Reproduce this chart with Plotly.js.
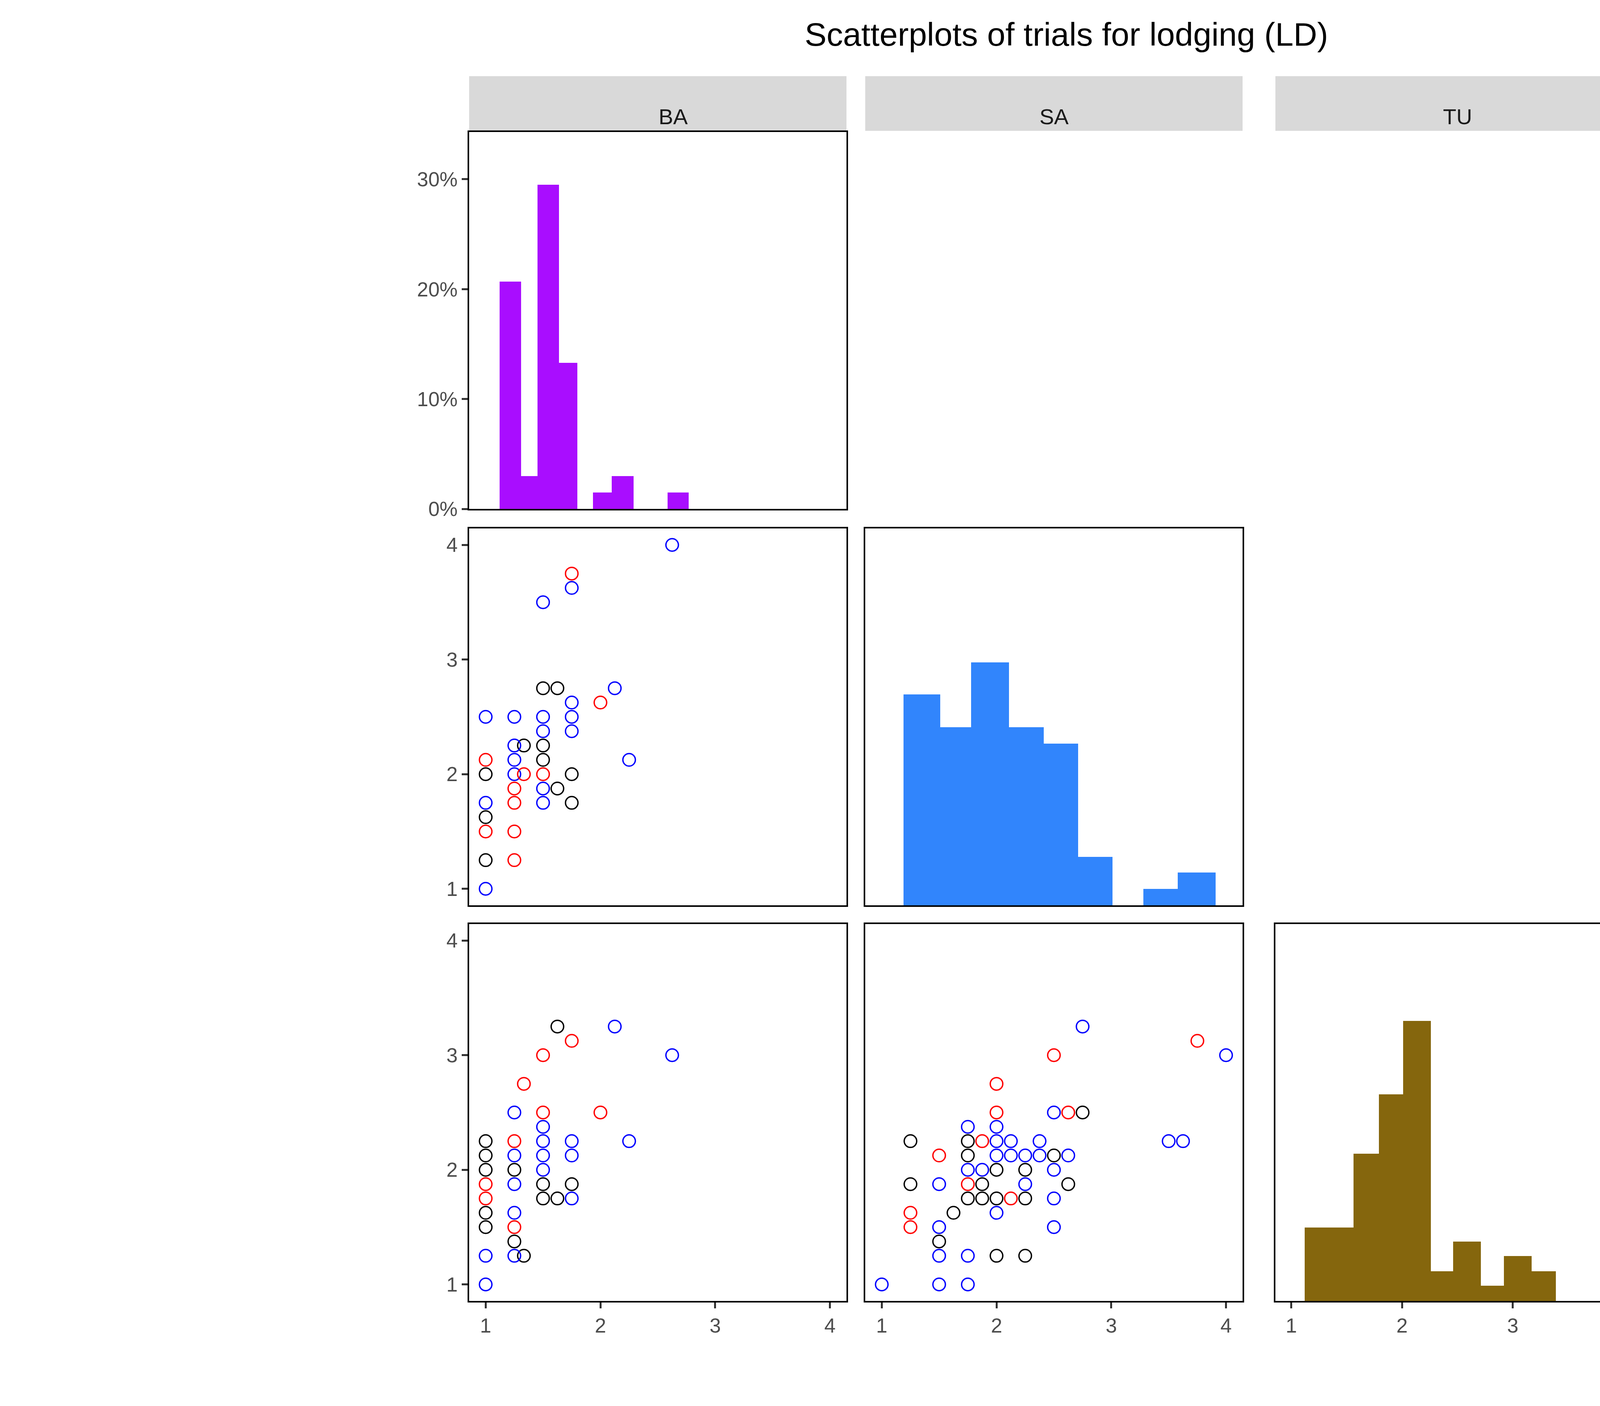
<!DOCTYPE html>
<html>
<head>
<meta charset="utf-8">
<script src="https://cdn.plot.ly/plotly-3.0.1.min.js"></script>
<style>html,body{margin:0;padding:0;background:#fff}#plot{width:5824px;height:3600px}</style>
</head>
<body>
<div id="plot"></div>
<pre id="err" style="position:absolute;left:20px;top:20px;font-size:60px;color:red"></pre>
<script>
window.onerror = (m) => { document.getElementById("err").textContent += m + "\n"; };

// trials and market colours
const trials = ["BA", "SA", "TU"];
const trialColors = ["#A90DFF", "#3185FC", "#85660D"];
const mkts = ["BB", "NB", "SR"];
const mktColors = ["black", "blue", "red"];

// diagonal histograms: bin edges and heights (%)
const baEdges = [1.12, 1.31, 1.45, 1.64, 1.80, 1.935, 2.10, 2.29, 2.585, 2.77];
const baPct = [20.7, 3.0, 29.5, 13.3, 0, 1.5, 3.0, 0, 1.5];
const saEdges = [1.19, 1.51, 1.78, 2.11, 2.41, 2.71, 3.01, 3.28, 3.58, 3.91];
const saPct = [19.2, 16.2, 22.1, 16.2, 14.7, 4.4, 0, 1.5, 3.0];
const tuEdges = [1.12, 1.34, 1.56, 1.79, 2.01, 2.26, 2.46, 2.71, 2.92, 3.17, 3.39];
const tuPct = [6.7, 6.7, 13.4, 18.8, 25.5, 2.7, 5.4, 1.4, 4.1, 2.7];

// BA (x) vs SA (y)
const baSa = {
  BB: [[1.5,2.75],[1.625,2.75],[1.333,2.25],[1.5,2.25],[1.5,2.125],[1,2],[1.75,2],[1.625,1.875],[1.75,1.75],[1,1.625],[1,1.25]],
  NB: [[2.625,4],[1.75,3.625],[1.5,3.5],[2.125,2.75],[1.75,2.625],[1,2.5],[1.25,2.5],[1.5,2.5],[1.75,2.5],[1.5,2.375],[1.75,2.375],
       [1.25,2.25],[1.25,2.125],[2.25,2.125],[1.25,2],[1.5,1.875],[1,1.75],[1.5,1.75],[1,1]],
  SR: [[1.75,3.75],[2,2.625],[1,2.125],[1.333,2],[1.5,2],[1.25,1.875],[1.25,1.75],[1,1.5],[1.25,1.5],[1.25,1.25]]
};
// BA (x) vs TU (y)
const baTu = {
  BB: [[1.625,3.25],[1,2.25],[1,2.125],[1,2],[1.25,2],[1.5,1.875],[1.75,1.875],[1.5,1.75],[1.625,1.75],[1,1.625],[1,1.5],[1.25,1.375],[1.333,1.25]],
  NB: [[2.125,3.25],[2.625,3],[1.25,2.5],[1.5,2.375],[1.5,2.25],[1.75,2.25],[2.25,2.25],[1.25,2.125],[1.5,2.125],[1.75,2.125],
       [1.5,2],[1.25,1.875],[1.75,1.75],[1.25,1.625],[1,1.25],[1.25,1.25],[1,1]],
  SR: [[1.75,3.125],[1.5,3],[1.333,2.75],[1.5,2.5],[2,2.5],[1.25,2.25],[1,1.875],[1,1.75],[1.25,1.5]]
};
// SA (x) vs TU (y)
const saTu = {
  BB: [[2.75,2.5],[1.25,2.25],[1.75,2.25],[1.75,2.125],[2.5,2.125],[2,2],[2.25,2],[1.25,1.875],[1.875,1.875],[2.625,1.875],
       [1.75,1.75],[1.875,1.75],[2,1.75],[2.25,1.75],[1.625,1.625],[1.5,1.375],[2,1.25],[2.25,1.25]],
  NB: [[2.75,3.25],[4,3],[2.5,2.5],[1.75,2.375],[2,2.375],[2,2.25],[2.125,2.25],[2.375,2.25],[3.5,2.25],[3.625,2.25],[2,2.125],
       [2.125,2.125],[2.25,2.125],[2.375,2.125],[2.625,2.125],[1.75,2],[1.875,2],[2.5,2],[1.5,1.875],[2.25,1.875],[2.5,1.75],
       [2,1.625],[1.5,1.5],[2.5,1.5],[1.5,1.25],[1.75,1.25],[1,1],[1.5,1],[1.75,1]],
  SR: [[3.75,3.125],[2.5,3],[2,2.75],[2,2.5],[2.625,2.5],[1.875,2.25],[1.5,2.125],[1.75,1.875],[2.125,1.75],[1.25,1.625],[1.25,1.5]]
};

const W = 5824, H = 3600;
const colPx = [[1201, 2167], [2215, 3181], [3265, 4197]];
const rowPx = [[338, 1303], [1353, 2318], [2366, 3331]];
const xd = c => [colPx[c][0] / W, colPx[c][1] / W];
const yd = r => [1 - rowPx[r][1] / H, 1 - rowPx[r][0] / H];
const px = v => v / W, py = v => 1 - v / H;
const valRange = [0.856, 4.144];
const FONT = "Arial, Liberation Sans, sans-serif";

function axis(domain, range, showLabels, anchor) {
  return {
    domain: domain, range: range, anchor: anchor, showgrid: false, zeroline: false,
    showline: true, mirror: true, linecolor: "black", linewidth: 4,
    ticks: showLabels ? "outside" : "", ticklen: 15, tickwidth: 5, tickcolor: "#333",
    showticklabels: showLabels, tickfont: {family: FONT, size: 52, color: "#4d4d4d"},
    tickmode: "array", tickvals: [1, 2, 3, 4], ticktext: ["1", "2", "3", "4"], fixedrange: true
  };
}

// panels: [row, col, axis id]
const panels = [[0,0,""],[1,0,"2"],[1,1,"3"],[2,0,"4"],[2,1,"5"],[2,2,"6"]];
const layout = {
  width: W, height: H, autosize: false, margin: {l: 0, r: 0, t: 0, b: 0, pad: 0},
  paper_bgcolor: "white", plot_bgcolor: "white", showlegend: false, bargap: 0,
  title: {text: "Scatterplots of trials for lodging (LD)", x: px(2730), xanchor: "center", xref: "paper",
          y: py(88), yanchor: "middle", yref: "paper", font: {family: FONT, size: 84, color: "black"}},
  shapes: [], annotations: []
};
panels.forEach(([r, c, id]) => {
  layout["xaxis" + id] = axis(xd(c), valRange, r === 2, "y" + id);
  const ya = axis(yd(r), r === c ? [0, 34.3] : valRange, c === 0, "x" + id);
  if (r === 0) { ya.tickvals = [0, 10, 20, 30]; ya.ticktext = ["0%", "10%", "20%", "30%"]; }
  layout["yaxis" + id] = ya;
});

const data = [];
function hist(edges, pct, color, id) {
  data.push({
    type: "bar", xaxis: "x" + id, yaxis: "y" + id,
    x: pct.map((v, i) => (edges[i] + edges[i + 1]) / 2),
    width: pct.map((v, i) => edges[i + 1] - edges[i]),
    y: pct, marker: {color: color, line: {width: 0}}
  });
}
hist(baEdges, baPct, trialColors[0], "");
hist(saEdges, saPct, trialColors[1], "3");
hist(tuEdges, tuPct, trialColors[2], "6");

function scatter(set, id) {
  mkts.forEach((m, i) => {
    data.push({
      type: "scatter", mode: "markers", xaxis: "x" + id, yaxis: "y" + id,
      x: set[m].map(p => p[0]), y: set[m].map(p => p[1]),
      marker: {symbol: "circle-open", size: 32, color: mktColors[i], line: {width: 3.5, color: mktColors[i]}}
    });
  });
}
scatter(baSa, "2");
scatter(baTu, "4");
scatter(saTu, "5");

// facet strips
const stripFont = {family: FONT, size: 56, color: "#1a1a1a"};
trials.forEach((t, i) => {
  layout.shapes.push({type: "rect", xref: "paper", yref: "paper", x0: px(colPx[i][0]), x1: px(colPx[i][1]),
    y0: py(335), y1: py(195), fillcolor: "#d9d9d9", line: {width: 0}, layer: "below"});
  layout.annotations.push({xref: "paper", yref: "paper", x: px((colPx[i][0] + colPx[i][1]) / 2), y: py(265),
    text: t, showarrow: false, font: stripFont});
  layout.shapes.push({type: "rect", xref: "paper", yref: "paper", x0: px(4200), x1: px(4385),
    y0: py(rowPx[i][1]), y1: py(rowPx[i][0]), fillcolor: "#d9d9d9", line: {width: 0}, layer: "below"});
  layout.annotations.push({xref: "paper", yref: "paper", x: px(4292), y: py((rowPx[i][0] + rowPx[i][1]) / 2),
    text: t, textangle: 90, showarrow: false, font: stripFont});
});

// legend drawn with paper shapes
function legendGroup(title, labels, colors, top, open) {
  const step = 146, keyX = 4598, rad = 15;
  layout.annotations.push({xref: "paper", yref: "paper", x: px(4527), y: py(top - 90), xanchor: "left",
    text: title, showarrow: false, font: {family: FONT, size: 68, color: "black"}});
  layout.shapes.push({type: "rect", xref: "paper", yref: "paper", x0: px(4527), x1: px(4670),
    y0: py(top + step * labels.length), y1: py(top), fillcolor: "#f2f2f2", line: {width: 0}, layer: "below"});
  labels.forEach((l, i) => {
    const cy = top + step * (i + 0.5);
    layout.annotations.push({xref: "paper", yref: "paper", x: px(4722), y: py(cy), xanchor: "left",
      text: l, showarrow: false, font: {family: FONT, size: 56, color: "black"}});
    layout.shapes.push({type: "circle", xref: "paper", yref: "paper",
      x0: px(keyX - rad), x1: px(keyX + rad), y0: py(cy + rad), y1: py(cy - rad),
      fillcolor: open ? "rgba(0,0,0,0)" : colors[i], line: {color: colors[i], width: open ? 3.5 : 1}});
  });
}
legendGroup("trial", trials, trialColors, 1330, false);
legendGroup("mkt", mkts, mktColors, 2085, true);

Plotly.newPlot("plot", data, layout, {staticPlot: true, responsive: false}).catch(e => {
  document.getElementById("err").textContent += String(e);
});
</script>
</body>
</html>
